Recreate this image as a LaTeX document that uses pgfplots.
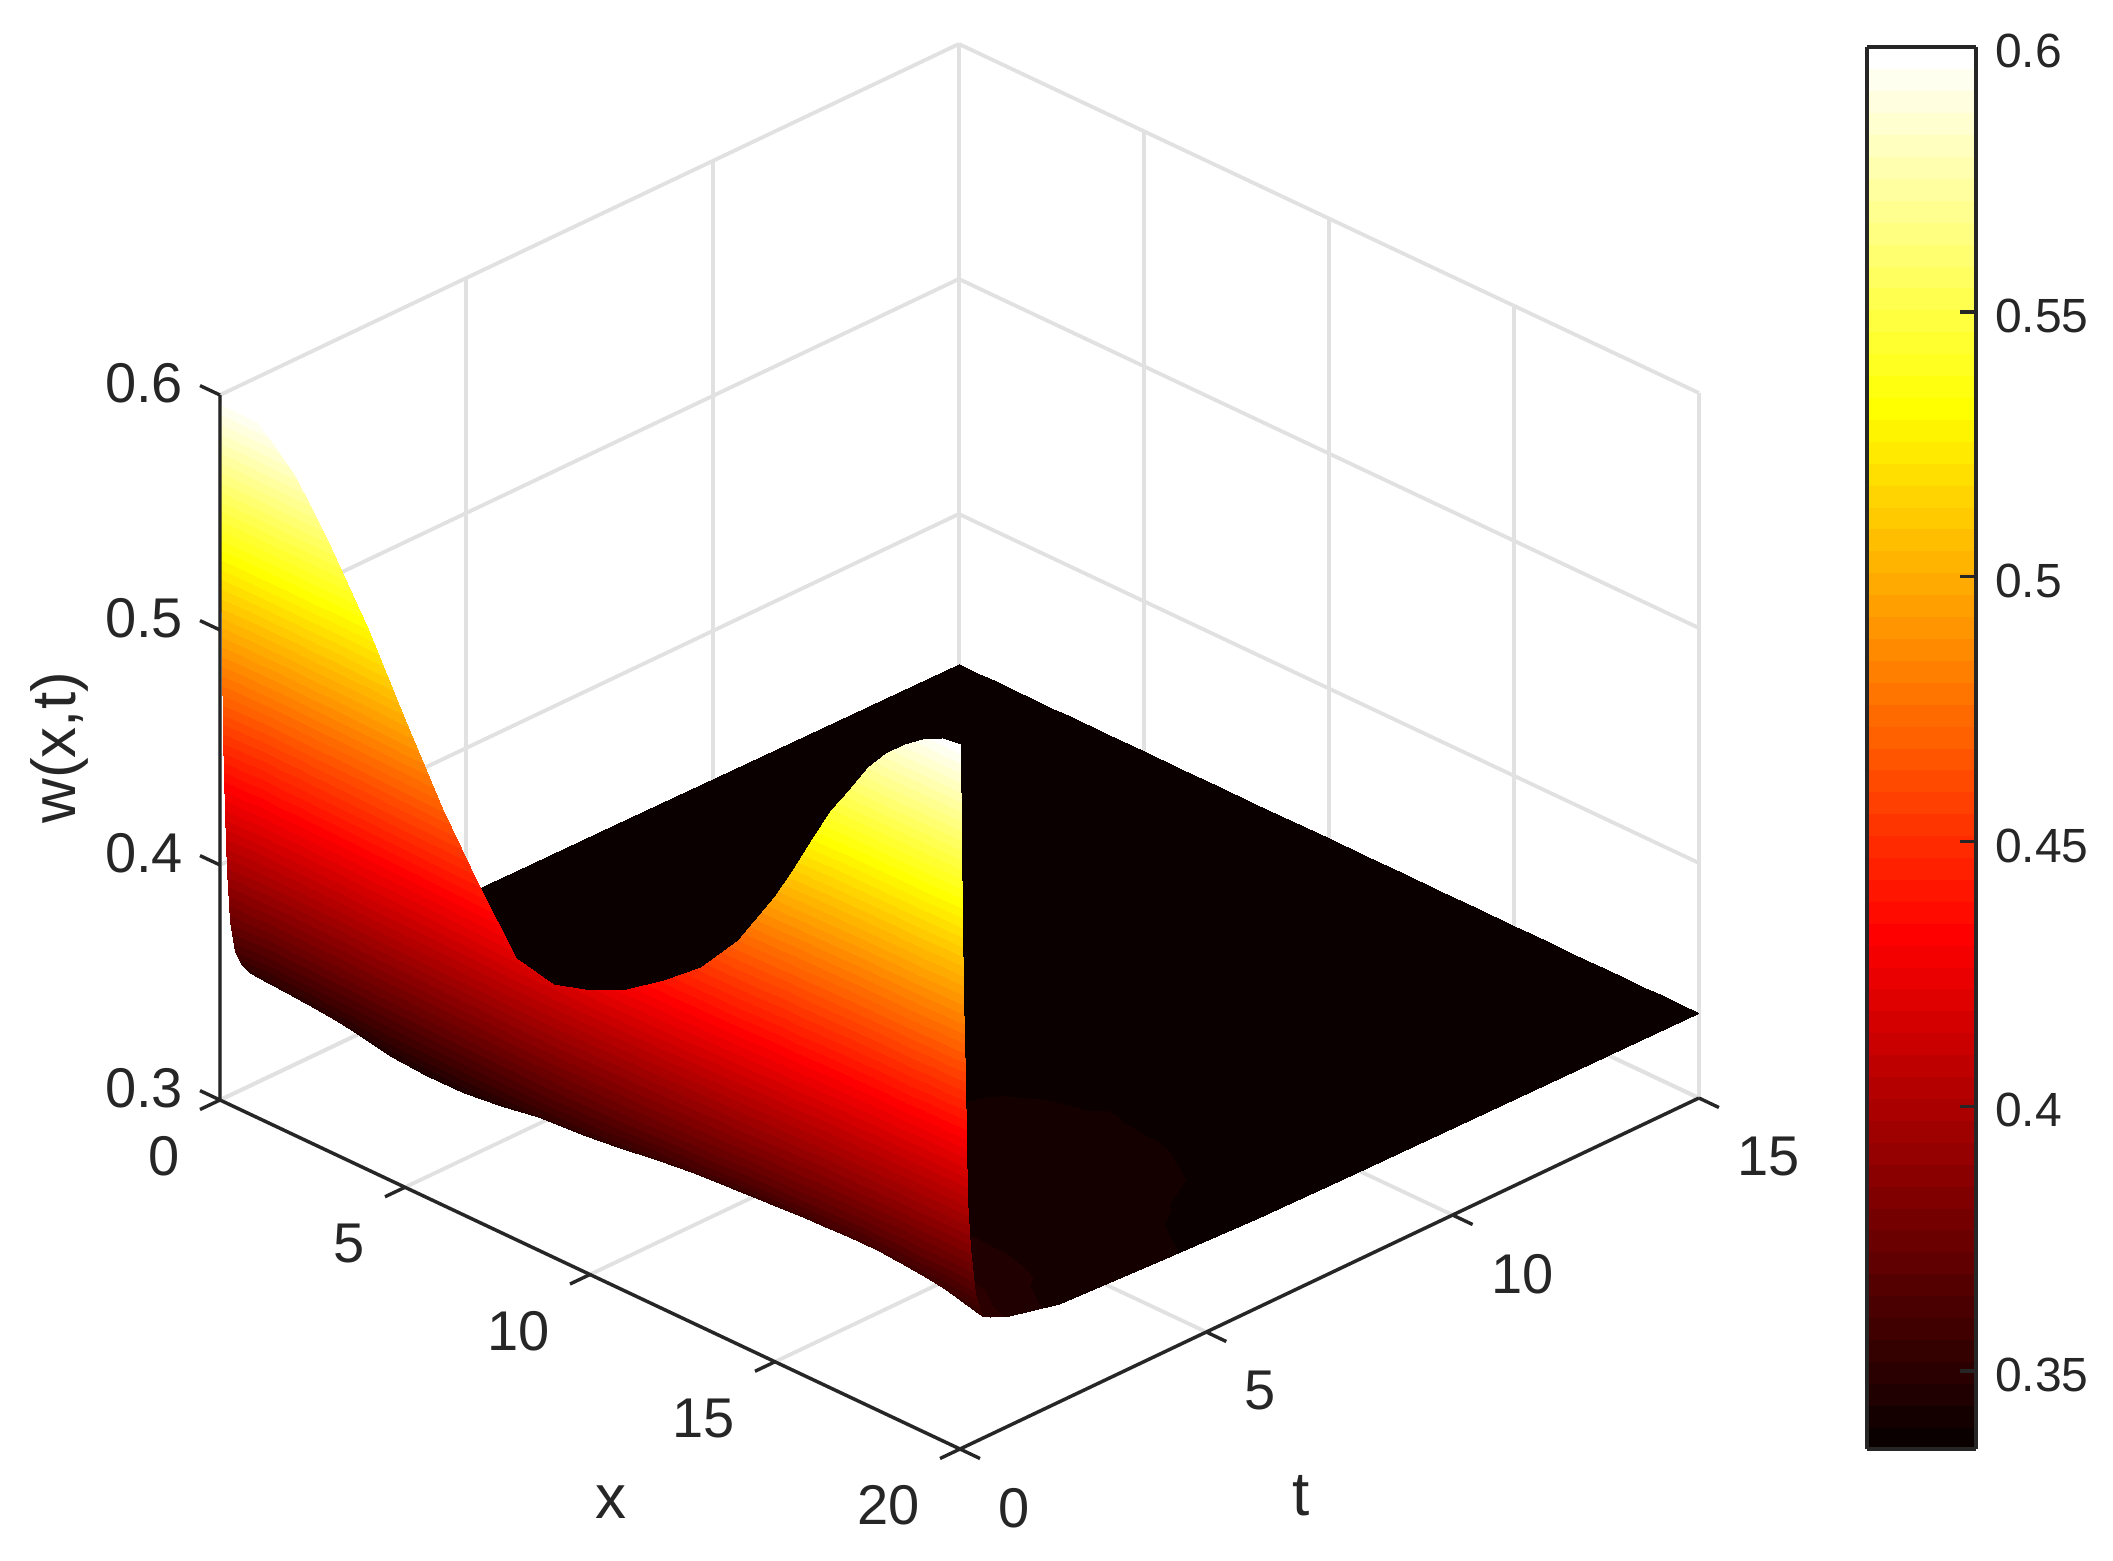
\documentclass[border=0pt]{standalone}
\usepackage{fontspec}
\setmainfont{Liberation Sans}
\usepackage{pgfplots}
\pgfplotsset{compat=1.18}
\definecolor{axdark}{HTML}{262626}
\definecolor{gridlight}{HTML}{E1E1E1}
\pgfplotsset{
  colormap={hotm}{rgb(0)=(0.0417,0,0) rgb(23)=(1,0,0) rgb(47)=(1,1,0) rgb(63)=(1,1,1)},
  colormap={hot64}{samples of colormap=(64 of hotm)},
}
\begin{document}
\begin{tikzpicture}
\path[use as bounding box] (-110pt,-55.5pt) rectangle (946.5pt,724.5pt);
\begin{axis}[
  at={(0pt,0pt)}, anchor=south west, clip=false,
  x={(18.5pt,-8.725pt)}, y={(24.63pt,11.7pt)}, z={(0pt,1175pt)},
  xmin=0, xmax=20, ymin=0, ymax=15, zmin=0.3, zmax=0.6,
  xtick={0,5,...,20}, ytick={0,5,...,15}, ztick={0.3,0.4,0.5,0.6},
  xtick pos=lower, ytick pos=upper, yticklabel pos=lower, ztick pos=lower,
  grid=major,
  major grid style={gridlight,line width=1.9pt},
  axis line style={draw=none},
  tick align=outside, tick style={axdark,line width=1.7pt},
  x tick style={draw=none}, y tick style={draw=none}, z tick style={draw=none},
  major tick length=11pt,
  ticklabel style={font=\fontsize{28}{32}\selectfont,text=axdark},
  /pgf/number format/assume math mode=true,
  /pgf/number format/fixed,
  xticklabel style={anchor=east,xshift=-6.5pt,yshift=-23.6pt},
  yticklabel style={anchor=west,xshift=5.8pt,yshift=-24.7pt},
  zticklabel style={anchor=east,xshift=-5pt,yshift=10.5pt},
  label style={font=\fontsize{31}{35}\selectfont,text=axdark},
  xlabel={x}, ylabel={t}, zlabel={w(x,t)},
  xlabel style={xshift=53.9pt,yshift=-45.1pt},
  ylabel style={xshift=-58.4pt,yshift=-41.7pt},
  zlabel style={yshift=0.7pt},
  colormap name=hot64,
  colormap access=piecewise constant,
  point meta min=0.3353, point meta max=0.6,
  colorbar,
  colorbar style={
    at={(parent axis.south east)}, anchor=south west,
    xshift=75.5pt, scale only axis,
    width=54.5pt, height=701pt,
    ymin=0.3353, ymax=0.6,
    ytick={0.35,0.4,...,0.6},
    ytick pos=right, yticklabel pos=right,
    tick align=inside, ytick align=inside, tick style={axdark,line width=1.7pt},
    y tick style={draw=axdark},
    major tick length=8pt,
    axis line style={axdark,line width=1.9pt},
    yticklabel style={font=\fontsize{24}{28}\selectfont,text=axdark,xshift=6pt,yshift=-2pt},
    /pgf/number format/assume math mode=true,
    /pgf/number format/fixed,
    /pgf/number format/precision=2,
    ylabel={},
  },
]
\addplot3[surf, shader=interp, z buffer=sort] coordinates {
(0,0,.596) (0,.03,.525) (0,.06,.454) (0,.1,.421) (0,.15,.396) (0,.2,.374) (0,.3,.36) (0,.45,.3528) (0,.6,.348) (0,1,.343) (0,2,.3394) (0,4,.3381) (0,6,.3375) (0,8,.3372) (0,11,.3367) (0,15,.3362)

(.5,0,.598) (.5,.03,.5295) (.5,.06,.466) (.5,.1,.43) (.5,.15,.4005) (.5,.2,.3785) (.5,.3,.3615) (.5,.45,.3519) (.5,.6,.3475) (.5,1,.3428) (.5,2,.3394) (.5,4,.3381) (.5,6,.3376) (.5,8,.3372) (.5,11,.3367) (.5,15,.3362)

(1,0,.5955) (1,.03,.534) (1,.06,.478) (1,.1,.439) (1,.15,.405) (1,.2,.383) (1,.3,.363) (1,.45,.351) (1,.6,.347) (1,1,.3425) (1,2,.3393) (1,4,.3381) (1,6,.3376) (1,8,.3372) (1,11,.3367) (1,15,.3362)

(1.5,0,.589) (1.5,.03,.5285) (1.5,.06,.4738) (1.5,.1,.4358) (1.5,.15,.4025) (1.5,.2,.381) (1.5,.3,.3618) (1.5,.45,.35) (1.5,.6,.3465) (1.5,1,.3423) (1.5,2,.3393) (1.5,4,.3381) (1.5,6,.3376) (1.5,8,.3372) (1.5,11,.3367) (1.5,15,.3362)

(2,0,.581) (2,.03,.523) (2,.06,.4696) (2,.1,.4325) (2,.15,.4) (2,.2,.379) (2,.3,.3606) (2,.45,.349) (2,.6,.346) (2,1,.342) (2,2,.3392) (2,4,.338) (2,6,.3376) (2,8,.3372) (2,11,.3367) (2,15,.3362)

(2.5,0,.57) (2.5,.03,.5142) (2.5,.06,.4632) (2.5,.1,.4278) (2.5,.15,.3967) (2.5,.2,.3767) (2.5,.3,.3591) (2.5,.45,.348) (2.5,.6,.345) (2.5,1,.3415) (2.5,2,.3391) (2.5,4,.338) (2.5,6,.3376) (2.5,8,.3372) (2.5,11,.3367) (2.5,15,.3362)

(3,0,.557) (3,.03,.5053) (3,.06,.4567) (3,.1,.423) (3,.15,.3934) (3,.2,.3744) (3,.3,.3576) (3,.45,.347) (3,.6,.344) (3,1,.341) (3,2,.339) (3,4,.338) (3,6,.3376) (3,8,.3372) (3,11,.3367) (3,15,.3362)

(4,0,.53) (4,.03,.4835) (4,.06,.4407) (4,.1,.411) (4,.15,.385) (4,.2,.3682) (4,.3,.3533) (4,.45,.344) (4,.6,.3425) (4,1,.3405) (4,2,.339) (4,4,.338) (4,6,.3376) (4,8,.3372) (4,11,.3367) (4,15,.3362)

(5,0,.499) (5,.03,.46) (5,.06,.4241) (5,.1,.3992) (5,.15,.3773) (5,.2,.3633) (5,.3,.3508) (5,.45,.343) (5,.6,.342) (5,1,.34) (5,2,.339) (5,4,.338) (5,6,.3376) (5,8,.3372) (5,11,.3367) (5,15,.3362)

(6,0,.469) (6,.03,.4375) (6,.06,.4085) (6,.1,.3884) (6,.15,.3707) (6,.2,.3594) (6,.3,.3493) (6,.45,.343) (6,.6,.342) (6,1,.3405) (6,2,.3392) (6,4,.3382) (6,6,.3378) (6,8,.3373) (6,11,.3367) (6,15,.3362)

(7,0,.443) (7,.03,.4185) (7,.06,.396) (7,.1,.3803) (7,.15,.3666) (7,.2,.3577) (7,.3,.3499) (7,.45,.345) (7,.6,.3435) (7,1,.3415) (7,2,.3395) (7,4,.3383) (7,6,.3378) (7,8,.3373) (7,11,.3367) (7,15,.3362)

(8,0,.42) (8,.03,.4019) (8,.06,.3852) (8,.1,.3736) (8,.15,.3635) (8,.2,.3569) (8,.3,.3511) (8,.45,.3475) (8,.6,.345) (8,1,.3425) (8,2,.34) (8,4,.3385) (8,6,.338) (8,8,.3374) (8,11,.3368) (8,15,.3362)

(9,0,.416) (9,.03,.3993) (9,.06,.3838) (9,.1,.3731) (9,.15,.3637) (9,.2,.3577) (9,.3,.3524) (9,.45,.349) (9,.6,.346) (9,1,.3435) (9,2,.3405) (9,4,.3387) (9,6,.338) (9,8,.3375) (9,11,.3368) (9,15,.3362)

(10,0,.421) (10,.03,.4034) (10,.06,.3872) (10,.1,.3759) (10,.15,.366) (10,.2,.3597) (10,.3,.354) (10,.45,.3505) (10,.6,.348) (10,1,.345) (10,2,.3412) (10,4,.3389) (10,6,.3382) (10,8,.3375) (10,11,.3368) (10,15,.3362)

(11,0,.429) (11,.03,.41) (11,.06,.3925) (11,.1,.3804) (11,.15,.3697) (11,.2,.3629) (11,.3,.3568) (11,.45,.353) (11,.6,.35) (11,1,.346) (11,2,.342) (11,4,.3393) (11,6,.3385) (11,8,.3376) (11,11,.3368) (11,15,.3362)

(12,0,.44) (12,.03,.4188) (12,.06,.3992) (12,.1,.3856) (12,.15,.3737) (12,.2,.3661) (12,.3,.3593) (12,.45,.355) (12,.6,.352) (12,1,.347) (12,2,.3425) (12,4,.3397) (12,6,.3388) (12,8,.3377) (12,11,.3368) (12,15,.3362)

(13,0,.453) (13,.03,.429) (13,.06,.4069) (13,.1,.3916) (13,.15,.3781) (13,.2,.3695) (13,.3,.3618) (13,.45,.357) (13,.6,.353) (13,1,.348) (13,2,.343) (13,4,.3401) (13,6,.3394) (13,8,.3378) (13,11,.3368) (13,15,.3362)

(14,0,.472) (14,.03,.4438) (14,.06,.4178) (14,.1,.3997) (14,.15,.3839) (14,.2,.3737) (14,.3,.3647) (14,.45,.359) (14,.6,.354) (14,1,.349) (14,2,.3435) (14,4,.3402) (14,6,.3398) (14,8,.338) (14,11,.3368) (14,15,.3362)

(15,0,.498) (15,.03,.4634) (15,.06,.4315) (15,.1,.4094) (15,.15,.39) (15,.2,.3775) (15,.3,.3664) (15,.45,.3595) (15,.6,.355) (15,1,.35) (15,2,.344) (15,4,.3403) (15,6,.34) (15,8,.3385) (15,11,.3369) (15,15,.3362)

(15.5,0,.514) (15.5,.03,.4759) (15.5,.06,.4402) (15.5,.1,.4155) (15.5,.15,.3938) (15.5,.2,.3799) (15.5,.3,.3675) (15.5,.45,.3598) (15.5,.6,.3555) (15.5,1,.3503) (15.5,2,.3442) (15.5,4,.3404) (15.5,6,.34) (15.5,8,.3383) (15.5,11,.3369) (15.5,15,.3362)

(16,0,.53) (16,.03,.4883) (16,.06,.4489) (16,.1,.4216) (16,.15,.3976) (16,.2,.3822) (16,.3,.3686) (16,.45,.36) (16,.6,.356) (16,1,.3505) (16,2,.3444) (16,4,.3405) (16,6,.34) (16,8,.3382) (16,11,.3369) (16,15,.3362)

(16.5,0,.546) (16.5,.03,.4984) (16.5,.06,.456) (16.5,.1,.4265) (16.5,.15,.4006) (16.5,.2,.384) (16.5,.3,.3693) (16.5,.45,.36) (16.5,.6,.356) (16.5,1,.3508) (16.5,2,.3445) (16.5,4,.3406) (16.5,6,.34) (16.5,8,.3382) (16.5,11,.3369) (16.5,15,.3362)

(17,0,.558) (17,.03,.5085) (17,.06,.463) (17,.1,.4313) (17,.15,.4036) (17,.2,.3857) (17,.3,.3699) (17,.45,.36) (17,.6,.356) (17,1,.351) (17,2,.3445) (17,4,.3407) (17,6,.3399) (17,8,.3381) (17,11,.3369) (17,15,.3362)

(17.5,0,.5715) (17.5,.03,.5169) (17.5,.06,.4685) (17.5,.1,.4348) (17.5,.15,.4054) (17.5,.2,.3864) (17.5,.3,.3696) (17.5,.45,.359) (17.5,.6,.3555) (17.5,1,.3505) (17.5,2,.3445) (17.5,4,.3406) (17.5,6,.3397) (17.5,8,.338) (17.5,11,.3369) (17.5,15,.3362)

(18,0,.5813) (18,.03,.5253) (18,.06,.474) (18,.1,.4383) (18,.15,.4071) (18,.2,.387) (18,.3,.3692) (18,.45,.358) (18,.6,.355) (18,1,.35) (18,2,.3445) (18,4,.3405) (18,6,.3395) (18,8,.338) (18,11,.3369) (18,15,.3362)

(18.5,0,.589) (18.5,.03,.5299) (18.5,.06,.4769) (18.5,.1,.44) (18.5,.15,.4078) (18.5,.2,.387) (18.5,.3,.3686) (18.5,.45,.357) (18.5,.6,.354) (18.5,1,.3495) (18.5,2,.3443) (18.5,4,.3404) (18.5,6,.339) (18.5,8,.3378) (18.5,11,.3368) (18.5,15,.3362)

(19,0,.5945) (19,.03,.5345) (19,.06,.4798) (19,.1,.4417) (19,.15,.4084) (19,.2,.3869) (19,.3,.3679) (19,.45,.356) (19,.6,.353) (19,1,.349) (19,2,.344) (19,4,.3402) (19,6,.3385) (19,8,.3376) (19,11,.3368) (19,15,.3362)

(19.5,0,.5988) (19.5,.03,.5463) (19.5,.06,.4862) (19.5,.1,.449) (19.5,.15,.4067) (19.5,.2,.3852) (19.5,.3,.3655) (19.5,.45,.354) (19.5,.6,.3515) (19.5,1,.3478) (19.5,2,.343) (19.5,4,.34) (19.5,6,.3383) (19.5,8,.3376) (19.5,11,.3368) (19.5,15,.3362)

(20,0,.6) (20,.03,.558) (20,.06,.4926) (20,.1,.4564) (20,.15,.405) (20,.2,.3835) (20,.3,.363) (20,.45,.352) (20,.6,.35) (20,1,.3465) (20,2,.342) (20,4,.3398) (20,6,.338) (20,8,.3375) (20,11,.3368) (20,15,.3362)
};
\draw[axdark,line width=1.7pt] (axis cs:0,0,0.6) -- (axis cs:0,0,0.3) -- (axis cs:20,0,0.3) -- (axis cs:20,15,0.3);
\draw[axdark,line width=1.7pt] (axis cs:0,0,0.3) -- ++(-10pt,4.7pt);
\draw[axdark,line width=1.7pt] (axis cs:0,0,0.4) -- ++(-10pt,4.7pt);
\draw[axdark,line width=1.7pt] (axis cs:0,0,0.5) -- ++(-10pt,4.7pt);
\draw[axdark,line width=1.7pt] (axis cs:0,0,0.6) -- ++(-10pt,4.7pt);
\draw[axdark,line width=1.7pt] (axis cs:0,0,0.3) -- ++(-10pt,-4.75pt);
\draw[axdark,line width=1.7pt] (axis cs:5,0,0.3) -- ++(-10pt,-4.75pt);
\draw[axdark,line width=1.7pt] (axis cs:10,0,0.3) -- ++(-10pt,-4.75pt);
\draw[axdark,line width=1.7pt] (axis cs:15,0,0.3) -- ++(-10pt,-4.75pt);
\draw[axdark,line width=1.7pt] (axis cs:20,0,0.3) -- ++(-10pt,-4.75pt);
\draw[axdark,line width=1.7pt] (axis cs:20,0,0.3) -- ++(10pt,-4.75pt);
\draw[axdark,line width=1.7pt] (axis cs:20,5,0.3) -- ++(10pt,-4.75pt);
\draw[axdark,line width=1.7pt] (axis cs:20,10,0.3) -- ++(10pt,-4.75pt);
\draw[axdark,line width=1.7pt] (axis cs:20,15,0.3) -- ++(10pt,-4.75pt);
\end{axis}
\end{tikzpicture}
\end{document}
